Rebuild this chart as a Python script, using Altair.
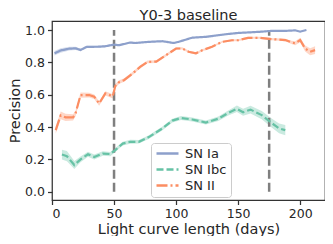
import altair as alt
import pandas as pd

# ---- data ----
ia_x = [2, 7, 14, 19, 23, 28, 38, 43, 50, 54, 63, 67, 78, 89, 98, 102, 113, 124, 140, 150, 167, 177, 188, 196, 200, 205]
ia_y = [0.856, 0.874, 0.885, 0.887, 0.877, 0.896, 0.897, 0.900, 0.910, 0.906, 0.923, 0.920, 0.927, 0.931, 0.920, 0.927, 0.953, 0.958, 0.974, 0.982, 0.989, 0.995, 0.995, 0.998, 0.990, 1.000]
ia_err = [0.014, 0.014, 0.012, 0.010, 0.008, 0.007, 0.006, 0.006, 0.006, 0.005, 0.005, 0.005, 0.004, 0.004, 0.004, 0.004, 0.004, 0.004, 0.003, 0.003, 0.003, 0.003, 0.003, 0.003, 0.003, 0.003]

ibc_x = [8, 12, 18, 23, 29, 34, 41, 47, 51, 57, 63, 70, 78, 89, 97, 104, 113, 124, 134, 142, 149, 154, 160, 169, 177, 183, 188]
ibc_y = [0.230, 0.220, 0.165, 0.200, 0.232, 0.215, 0.236, 0.233, 0.258, 0.298, 0.309, 0.309, 0.338, 0.392, 0.440, 0.456, 0.447, 0.428, 0.452, 0.487, 0.513, 0.492, 0.508, 0.474, 0.425, 0.392, 0.381]
ibc_err = [0.030, 0.032, 0.025, 0.018, 0.016, 0.015, 0.014, 0.013, 0.012, 0.012, 0.012, 0.011, 0.011, 0.011, 0.012, 0.012, 0.012, 0.012, 0.014, 0.016, 0.020, 0.022, 0.024, 0.025, 0.028, 0.030, 0.032]

ii_x = [3, 7, 11, 17, 19, 23, 30, 34, 38, 43, 49, 51, 54, 58, 65, 71, 77, 84, 92, 100, 105, 110, 116, 121, 129, 137, 145, 150, 158, 167, 177, 188, 193, 196, 200, 204, 208, 212]
ii_y = [0.381, 0.472, 0.460, 0.460, 0.485, 0.598, 0.598, 0.588, 0.546, 0.608, 0.590, 0.654, 0.678, 0.690, 0.732, 0.772, 0.803, 0.805, 0.845, 0.886, 0.886, 0.866, 0.856, 0.875, 0.897, 0.927, 0.937, 0.937, 0.952, 0.952, 0.944, 0.938, 0.924, 0.918, 0.938, 0.886, 0.866, 0.876]
ii_err = [0.022, 0.024, 0.022, 0.020, 0.018, 0.016, 0.015, 0.014, 0.014, 0.013, 0.013, 0.012, 0.011, 0.010, 0.010, 0.009, 0.009, 0.008, 0.008, 0.008, 0.007, 0.007, 0.007, 0.007, 0.006, 0.006, 0.006, 0.006, 0.006, 0.006, 0.007, 0.008, 0.010, 0.012, 0.014, 0.018, 0.022, 0.024]

series = ["SN Ia", "SN Ibc", "SN II"]
colors = ["#8da0cb", "#66c2a5", "#fc8d62"]
dashes = [[1, 0], [7, 3], [11, 3, 2, 3]]
vlines = [50, 175]
x_ticks = [0, 50, 100, 150, 200]
y_ticks = [0.0, 0.2, 0.4, 0.6, 0.8, 1.0]

rows = []
for name, xs, ys, es in [("SN Ia", ia_x, ia_y, ia_err),
                         ("SN Ibc", ibc_x, ibc_y, ibc_err),
                         ("SN II", ii_x, ii_y, ii_err)]:
    for x, y, e in zip(xs, ys, es):
        rows.append({"series": name, "x": x, "y": y, "lo": y - e, "hi": y + e})
df = pd.DataFrame(rows)
vdf = pd.DataFrame({"x": vlines, "y0": [0.0] * len(vlines), "y1": [1.0] * len(vlines)})

TXT = "#262626"
xscale = alt.Scale(domain=[0, 220], nice=False, zero=False)
yscale = alt.Scale(domain=[-0.051, 1.056], nice=False, zero=False)
cscale = alt.Scale(domain=series, range=colors)
dscale = alt.Scale(domain=series, range=dashes)

leg = alt.Legend(orient="none", legendX=99, legendY=122, title=None)
xaxis = alt.Axis(title="Light curve length (days)", values=x_ticks, labelOverlap=False)
yaxis = alt.Axis(title="Precision", values=y_ticks, format=".1f",
                 labelOverlap=False, titlePadding=2)

band = alt.Chart(df).mark_area(opacity=0.35).encode(
    x=alt.X("x:Q", scale=xscale, axis=xaxis),
    y=alt.Y("lo:Q", scale=yscale, axis=yaxis),
    y2="hi:Q",
    color=alt.Color("series:N", scale=cscale, title=None, legend=leg),
    detail="series:N",
)

lines = alt.Chart(df).mark_line(strokeWidth=2.2).encode(
    x=alt.X("x:Q", scale=xscale, axis=xaxis),
    y=alt.Y("y:Q", scale=yscale, axis=yaxis),
    color=alt.Color("series:N", scale=cscale, title=None, legend=leg),
    strokeDash=alt.StrokeDash("series:N", scale=dscale, title=None, legend=leg),
)

rules = alt.Chart(vdf).mark_rule(color="#7f7f7f", strokeWidth=2.5, strokeDash=[9, 4]).encode(
    x=alt.X("x:Q", scale=xscale, axis=xaxis),
    y=alt.Y("y0:Q", scale=yscale, axis=yaxis),
    y2="y1:Q",
)

chart = alt.layer(band, rules, lines).properties(
    width=273, height=179,
    title=alt.TitleParams("Y0-3 baseline", fontSize=14.5, fontWeight="normal",
                          color=TXT, font="DejaVu Sans", offset=3, dy=5),
    autosize=alt.AutoSizeParams(type="none"),
    padding={"left": 44, "top": 13, "right": 0, "bottom": 36},
).configure_view(
    stroke="#333333", strokeWidth=1.25
).configure_axis(
    grid=False, domain=False, ticks=True, tickColor="#333333", tickWidth=1.25,
    tickSize=4.5, labelFontSize=12.5, labelColor=TXT, labelFont="DejaVu Sans",
    titleFontSize=14.5, titleColor=TXT, titleFont="DejaVu Sans", titleFontWeight="normal",
    labelPadding=3,
).configure_axisX(
    titlePadding=2
).configure_legend(
    symbolType="M-1,0H3.4", symbolSize=100, symbolStrokeWidth=2.5, symbolOpacity=1,
    labelOffset=17, labelFontSize=13,
    labelColor=TXT, labelFont="DejaVu Sans", rowPadding=2,
    fillColor="rgba(255,255,255,0.8)", strokeColor="#cccccc", cornerRadius=3,
    padding=4,
)

chart.save("out.html", embed_options={"renderer": "svg", "actions": False})
